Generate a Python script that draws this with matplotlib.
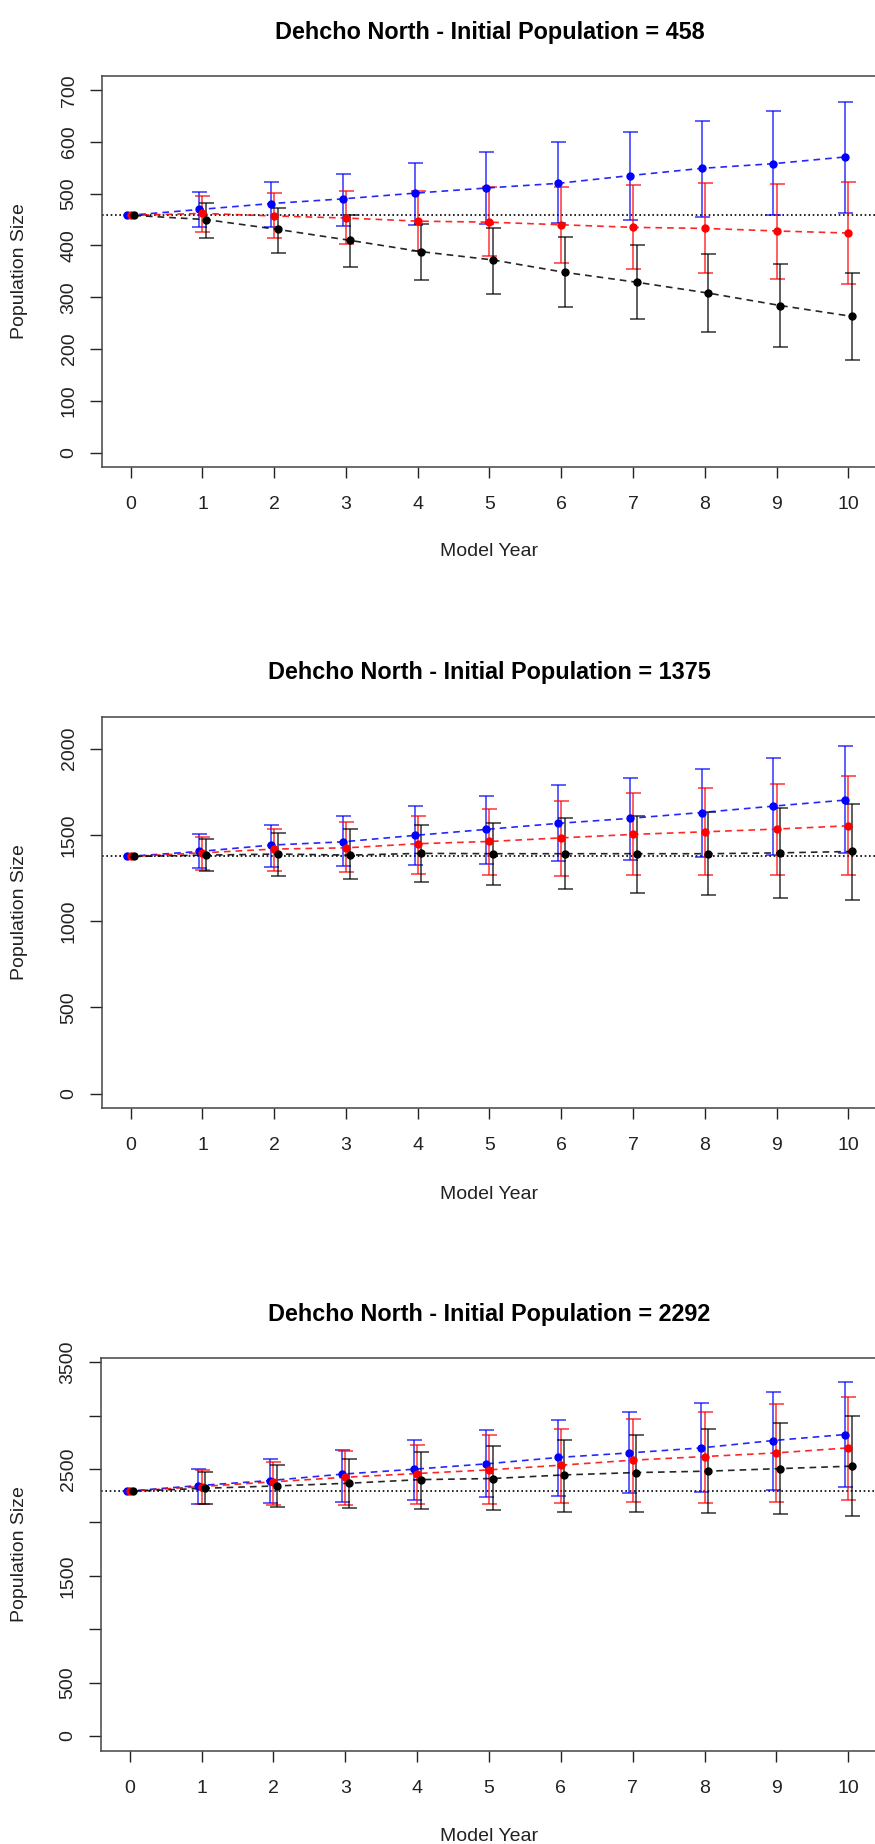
import numpy as np
import matplotlib
matplotlib.use('Agg')
import matplotlib.pyplot as plt

plt.rcParams['font.family'] = ['Liberation Sans', 'DejaVu Sans']

years = list(range(11))
initial = [458, 1375, 2292]

# panel 1 - initial population 458
p1_blue = [458, 469.5, 481, 490, 501, 511, 520, 535, 549, 558, 571]
p1_blue_hi = [458, 504, 523, 539, 560, 580, 599, 620, 641, 660, 678]
p1_blue_lo = [458, 435, 435, 437, 440, 442, 444, 450, 455, 459, 462]
p1_red = [458, 462, 457, 453, 447, 445, 440, 435, 433, 428, 424]
p1_red_hi = [458, 495, 501, 506, 506, 513, 513, 516, 520, 518, 522]
p1_red_lo = [458, 426, 414, 402, 390, 379, 367, 355, 346, 336, 326]
p1_black = [458, 450, 431, 410, 388, 372, 348, 329, 308, 284, 263]
p1_black_hi = [458, 482, 473, 459, 442, 433, 416, 400, 383, 365, 346]
p1_black_lo = [458, 414, 386, 359, 334, 307, 281, 258, 232, 204, 178]

# panel 2 - initial population 1375
p2_blue = [1375, 1404, 1441, 1460, 1497, 1532, 1567, 1596, 1630, 1667, 1702]
p2_blue_hi = [1375, 1503, 1557, 1609, 1667, 1723, 1787, 1831, 1885, 1949, 2015]
p2_blue_lo = [1375, 1306, 1315, 1319, 1327, 1333, 1348, 1354, 1370, 1381, 1393]
p2_red = [1375, 1396, 1418, 1425, 1449, 1462, 1483, 1503, 1518, 1534, 1553]
p2_red_hi = [1375, 1489, 1532, 1574, 1609, 1650, 1696, 1744, 1773, 1794, 1843]
p2_red_lo = [1375, 1294, 1292, 1283, 1275, 1269, 1263, 1269, 1269, 1269, 1269]
p2_black = [1375, 1383, 1389, 1383, 1393, 1391, 1391, 1391, 1391, 1396, 1404]
p2_black_hi = [1375, 1476, 1509, 1532, 1559, 1567, 1596, 1609, 1632, 1659, 1682]
p2_black_lo = [1375, 1290, 1263, 1242, 1227, 1207, 1184, 1163, 1150, 1136, 1120]

# panel 3 - initial population 2292
p3_blue = [2292, 2345, 2392, 2452, 2498, 2548, 2608, 2651, 2698, 2767, 2823]
p3_blue_hi = [2292, 2501, 2592, 2679, 2773, 2867, 2960, 3038, 3120, 3223, 3316]
p3_blue_lo = [2292, 2177, 2180, 2195, 2214, 2239, 2251, 2273, 2286, 2305, 2330]
p3_red = [2292, 2336, 2380, 2423, 2458, 2492, 2536, 2583, 2617, 2651, 2698]
p3_red_hi = [2292, 2489, 2564, 2670, 2729, 2820, 2879, 2970, 3038, 3110, 3176]
p3_red_lo = [2292, 2171, 2167, 2167, 2171, 2173, 2180, 2192, 2180, 2192, 2214]
p3_black = [2292, 2320, 2342, 2367, 2401, 2411, 2445, 2467, 2480, 2504, 2527]
p3_black_hi = [2292, 2476, 2536, 2592, 2661, 2711, 2776, 2820, 2879, 2935, 2995]
p3_black_lo = [2292, 2177, 2148, 2136, 2127, 2114, 2102, 2102, 2092, 2077, 2064]

ylims = [700, 2100, 3400]
yticks = [list(range(0, 701, 100)), list(range(0, 2001, 500)), list(range(0, 3501, 500))]
yticklabels = [[str(v) for v in yticks[0]], [str(v) for v in yticks[1]],
               ['0', '500', '', '1500', '', '2500', '', '3500']]

panels = [
    [(p1_blue, p1_blue_lo, p1_blue_hi), (p1_red, p1_red_lo, p1_red_hi), (p1_black, p1_black_lo, p1_black_hi)],
    [(p2_blue, p2_blue_lo, p2_blue_hi), (p2_red, p2_red_lo, p2_red_hi), (p2_black, p2_black_lo, p2_black_hi)],
    [(p3_blue, p3_blue_lo, p3_blue_hi), (p3_red, p3_red_lo, p3_red_hi), (p3_black, p3_black_lo, p3_black_hi)],
]
colours = ['blue', 'red', 'black']
offsets = [-0.045, 0.0, 0.05]

W, H = 875, 1844
fig = plt.figure(figsize=(W / 100, H / 100), dpi=100)

# axes boxes in pixels: left, right, top, bottom
boxes = [(102, 877, 75.7, 467), (102, 877, 717, 1108), (101, 877, 1358.4, 1750.5)]
title_y = [32, 673, 1315]
xlab_y = [552, 1194, 1836]

for i in range(3):
    l, r, t, b = boxes[i]
    ax = fig.add_axes([l / W, 1 - b / H, (r - l) / W, (b - t) / H])
    top = ylims[i]
    ax.set_xlim(-0.4, 10.4)
    ax.set_ylim(-0.04 * top, top * 1.04)

    for (mean, lo, hi), c, off in zip(panels[i], colours, offsets):
        x = np.array(years) + off
        m = np.array(mean)
        ax.plot(x, m, color=c, ls=(0, (4, 3)), lw=1.2, alpha=0.85, zorder=3)
        ax.plot(x, m, 'o', color=c, ms=5, zorder=4)
        # no bar at year 0
        err = [m[1:] - np.array(lo[1:]), np.array(hi[1:]) - m[1:]]
        ax.errorbar(x[1:], m[1:], yerr=err, fmt='none', ecolor=c, elinewidth=1.1,
                    capsize=5.4, capthick=1.1, alpha=0.8, zorder=2)

    ax.axhline(initial[i], color='black', ls=(0, (1, 1.6)), lw=1.2, zorder=1)

    ax.set_xticks(years)
    ax.set_yticks(yticks[i])
    ax.set_yticklabels(yticklabels[i], rotation=90, va='center')
    ax.tick_params(axis='x', length=8, width=1, pad=13, labelsize=14, colors='#222222')
    ax.tick_params(axis='y', length=8.6, width=1, pad=9, labelsize=14, colors='#222222')
    for s in ax.spines.values():
        s.set_color('#444444')
        s.set_linewidth(1.1)

    fig.text((l + r) / 2 / W, 1 - title_y[i] / H,
             'Dehcho North - Initial Population = ' + str(initial[i]),
             ha='center', va='center', fontsize=16.8, fontweight='bold')
    fig.text((l + r) / 2 / W, 1 - xlab_y[i] / H, 'Model Year',
             ha='center', va='center', fontsize=14, color='#222222')
    fig.text(20 / W, 1 - (t + b) / 2 / H, 'Population Size', rotation=90,
             ha='center', va='center', fontsize=14, color='#222222')

fig.savefig('out.png', dpi=100)
